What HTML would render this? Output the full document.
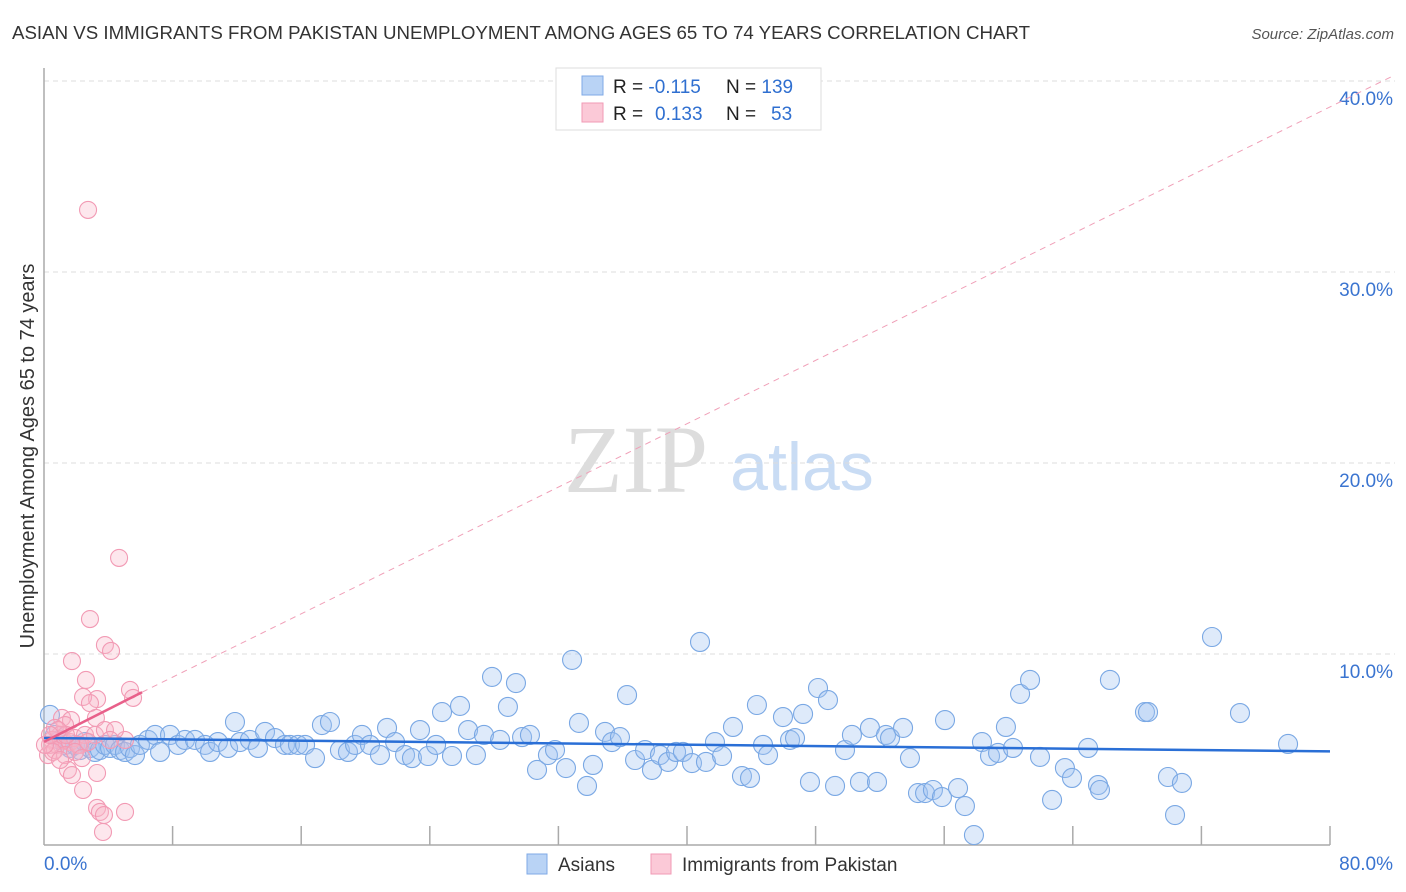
<!DOCTYPE html>
<html><head><meta charset="utf-8"><style>
body{margin:0;background:#fff;font-family:"Liberation Sans",sans-serif}
#wrap{position:relative;width:1406px;height:892px;overflow:hidden}
</style></head><body>
<div id="wrap">
<svg id="svg" width="1406" height="892" xmlns="http://www.w3.org/2000/svg">
<text x="12" y="39" font-size="18.7" fill="#333">ASIAN VS IMMIGRANTS FROM PAKISTAN UNEMPLOYMENT AMONG AGES 65 TO 74 YEARS CORRELATION CHART</text>
<text x="1394" y="39" font-size="15" fill="#555" font-style="italic" text-anchor="end">Source: ZipAtlas.com</text>
<text transform="translate(34,456) rotate(-90)" font-size="20" fill="#333" text-anchor="middle">Unemployment Among Ages 65 to 74 years</text>
<text x="636" y="492" font-size="96" fill="#ddd" font-family="Liberation Serif,serif" text-anchor="middle">ZIP</text>
<text x="802" y="490" font-size="68" fill="#c9dcf4" text-anchor="middle">atlas</text>
<g id="grid"></g><g id="axes"></g><g id="pts"></g><g id="trend"></g>
<g>
<rect x="556" y="68" width="265" height="62" fill="#fff" stroke="#ddd"/>
<rect x="582" y="76" width="21" height="19" fill="#b9d3f5" stroke="#7fa9e6"/>
<rect x="582" y="103" width="21" height="19" fill="#fbc9d7" stroke="#f09ab5"/>
<text x="613" y="93" font-size="19" fill="#222">R = <tspan fill="#2f6fd0">-0.115</tspan><tspan x="726">N = </tspan><tspan fill="#2f6fd0">139</tspan></text>
<text x="613" y="120" font-size="19" fill="#222">R = <tspan x="655" fill="#2f6fd0">0.133</tspan><tspan x="726">N = </tspan><tspan x="771" fill="#2f6fd0">53</tspan></text>
</g>
<g>
<rect x="527" y="854" width="20" height="20" fill="#b9d3f5" stroke="#7fa9e6"/>
<text x="558" y="871" font-size="19" fill="#333">Asians</text>
<rect x="651" y="854" width="20" height="20" fill="#fbc9d7" stroke="#f09ab5"/>
<text x="682" y="871" font-size="19" fill="#333">Immigrants from Pakistan</text>
</g>
</svg>
</div>
<script>
const yTicks=[10,20,30,40];
const yTickLabels=["10.0%","20.0%","30.0%","40.0%"];
const xTicks=[0,8,16,24,32,40,48,56,64,72,80];
const xEndLabels=["0.0%","80.0%"];
const bluePx=[[50,715],[55,735],[60,740],[65,745],[70,748],[75,745],[80,750],[85,742],[90,748],[95,752],[100,750],[105,745],[110,748],[115,745],[120,750],[125,752],[130,748],[135,755],[140,745],[148,740],[155,735],[160,752],[170,735],[178,745],[185,740],[195,740],[205,745],[210,752],[218,742],[228,748],[235,722],[240,742],[250,740],[258,748],[265,732],[275,738],[285,745],[290,745],[298,745],[305,745],[315,758],[322,725],[330,722],[340,750],[348,752],[355,745],[362,735],[370,745],[380,755],[387,728],[395,742],[405,755],[412,758],[420,730],[428,756],[436,745],[442,712],[452,756],[460,706],[468,730],[476,755],[484,735],[492,677],[500,740],[508,707],[516,683],[522,737],[530,735],[537,770],[548,755],[555,750],[566,768],[572,660],[579,723],[587,786],[593,765],[605,732],[612,742],[620,737],[627,695],[635,760],[645,750],[652,770],[660,755],[668,762],[676,752],[683,752],[692,763],[700,642],[706,762],[715,742],[722,756],[733,727],[742,776],[750,778],[757,705],[763,745],[768,755],[783,717],[790,740],[795,738],[803,714],[810,782],[818,688],[828,700],[835,786],[845,750],[852,735],[860,782],[870,728],[877,782],[886,735],[890,738],[903,728],[910,758],[918,793],[925,793],[933,790],[942,797],[945,720],[958,788],[965,806],[974,835],[982,742],[990,756],[998,753],[1006,727],[1013,748],[1020,694],[1030,680],[1040,757],[1052,800],[1065,768],[1072,778],[1088,748],[1098,785],[1100,790],[1110,680],[1145,712],[1148,712],[1168,777],[1175,815],[1182,783],[1212,637],[1240,713],[1288,744]];
const pinkPx=[[88,210],[119,558],[90,619],[105,645],[111,651],[72,661],[86,680],[97,699],[130,690],[133,698],[83,697],[90,703],[96,718],[62,718],[71,720],[65,725],[55,728],[60,735],[52,740],[57,745],[63,740],[70,742],[75,738],[80,745],[85,735],[95,735],[105,730],[125,740],[48,755],[50,745],[55,750],[65,755],[68,770],[72,775],[97,773],[83,790],[97,808],[100,812],[104,815],[125,812],[103,832],[115,730],[78,745],[66,735],[58,730],[53,752],[60,760],[75,752],[88,742],[110,740],[45,745],[50,735],[82,758]];
const blueX=bluePx.map(p=>+((p[0]-44)/16.075).toFixed(2));
const blueY=bluePx.map(p=>+((845-p[1])/19.1).toFixed(2));
const pinkX=pinkPx.map(p=>+((p[0]-44)/16.075).toFixed(2));
const pinkY=pinkPx.map(p=>+((845-p[1])/19.1).toFixed(2));
const blueTrend=[[0,5.6],[80,4.9]];
const pinkTrendSolid=[[0,5.4],[6.1,8.0]];
const pinkTrendDash=[[6.1,8.0],[84,40.3]];
const X=v=>44+v*16.075, Y=v=>845-v*19.1;
const NS="http://www.w3.org/2000/svg";
function mk(parent,tag,attrs){const e=document.createElementNS(NS,tag);for(const k in attrs)e.setAttribute(k,attrs[k]);document.getElementById(parent).appendChild(e);return e;}
yTicks.forEach((t,i)=>{
 const l=mk('grid','line',{x1:44,x2:1395,y1:Y(t),y2:Y(t),stroke:'#ddd','stroke-dasharray':'5,4'});
 
 
 const tx=mk('grid','text',{x:1393,y:Y(t)+24,'font-size':19,fill:'#3a74d0','text-anchor':'end'});
 tx.textContent=yTickLabels[i];
 
 
});
const ya=mk('axes','line',{x1:44,x2:44,y1:68,y2:845,stroke:'#aaa','stroke-width':1.5});


const xa=mk('axes','line',{x1:44,x2:1330,y1:845,y2:845,stroke:'#aaa','stroke-width':1.5});


xTicks.slice(1).forEach(t=>{
 const l=mk('axes','line',{x1:X(t),x2:X(t),y1:826,y2:845,stroke:'#aaa','stroke-width':1.5});
 
 
});
[[0,'start',44],[80,'end',1393]].forEach((d,i)=>{
 const tx=mk('axes','text',{x:d[2],y:870,'font-size':19,fill:'#3a74d0','text-anchor':d[1]});
 tx.textContent=xEndLabels[i];
 
 
});
blueX.forEach((x,i)=>{
 const c=mk('pts','circle',{cx:X(x),cy:Y(blueY[i]),r:9.5,fill:'rgba(160,196,240,0.35)',stroke:'#7aa8e4','stroke-width':1.1});
 
 
});
pinkX.forEach((x,i)=>{
 const c=mk('pts','circle',{cx:X(x),cy:Y(pinkY[i]),r:8.5,fill:'rgba(248,180,200,0.32)',stroke:'#f29ab4','stroke-width':1.1});
 
 
});
const bt=mk('trend','line',{x1:X(blueTrend[0][0]),y1:Y(blueTrend[0][1]),x2:X(blueTrend[1][0]),y2:Y(blueTrend[1][1]),stroke:'#2a6fd6','stroke-width':2.5});


const pd=mk('trend','line',{x1:X(pinkTrendDash[0][0]),y1:Y(pinkTrendDash[0][1]),x2:X(pinkTrendDash[1][0]),y2:Y(pinkTrendDash[1][1]),stroke:'#f0a0b8','stroke-width':1,'stroke-dasharray':'6,5'});


const ps=mk('trend','line',{x1:X(pinkTrendSolid[0][0]),y1:Y(pinkTrendSolid[0][1]),x2:X(pinkTrendSolid[1][0]),y2:Y(pinkTrendSolid[1][1]),stroke:'#e8608a','stroke-width':2.5});


</script>
</body></html>
